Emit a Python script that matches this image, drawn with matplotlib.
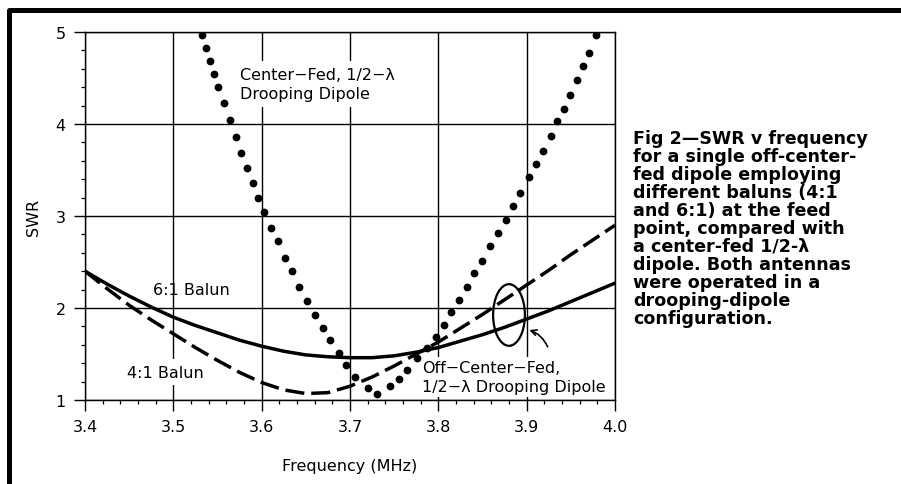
import numpy as np
import matplotlib
matplotlib.use("Agg")
import matplotlib.pyplot as plt
from matplotlib.patches import Ellipse
from matplotlib.ticker import MultipleLocator

# 1. DATA
# Center-fed 1/2-wave drooping dipole (dotted)
cf_freq = [3.532, 3.537, 3.542, 3.546, 3.551, 3.557, 3.564, 3.571, 3.577, 3.583,
           3.590, 3.596, 3.603, 3.611, 3.618, 3.626, 3.634, 3.642, 3.651, 3.660,
           3.669, 3.677, 3.687, 3.695, 3.706, 3.720, 3.730, 3.745, 3.755, 3.764,
           3.776, 3.787, 3.797, 3.806, 3.814, 3.823, 3.832, 3.840, 3.849, 3.858,
           3.868, 3.877, 3.885, 3.893, 3.903, 3.911, 3.919, 3.928, 3.934, 3.942,
           3.949, 3.957, 3.964, 3.971, 3.979]
cf_swr = [4.97, 4.83, 4.69, 4.54, 4.40, 4.23, 4.04, 3.86, 3.69, 3.52,
          3.36, 3.20, 3.04, 2.87, 2.73, 2.54, 2.40, 2.23, 2.08, 1.92,
          1.78, 1.65, 1.51, 1.38, 1.25, 1.13, 1.07, 1.15, 1.23, 1.33,
          1.46, 1.57, 1.69, 1.82, 1.96, 2.09, 2.23, 2.38, 2.51, 2.67,
          2.82, 2.96, 3.11, 3.25, 3.42, 3.57, 3.71, 3.87, 4.03, 4.16,
          4.32, 4.48, 4.63, 4.77, 4.97]

# Off-center-fed with 6:1 balun (solid)
b61_freq = [3.400, 3.425, 3.450, 3.475, 3.500, 3.525, 3.550, 3.575, 3.600, 3.625, 3.650, 3.675, 3.700,
            3.725, 3.750, 3.775, 3.800, 3.825, 3.850, 3.875, 3.900, 3.925, 3.950, 3.975, 4.000]
b61_swr = [2.40, 2.26, 2.13, 2.01, 1.90, 1.81, 1.73, 1.65, 1.585, 1.53, 1.49, 1.47, 1.46,
           1.46, 1.48, 1.52, 1.57, 1.64, 1.71, 1.79, 1.88, 1.97, 2.07, 2.17, 2.27]

# Off-center-fed with 4:1 balun (dashed)
b41_freq = [3.400, 3.425, 3.450, 3.475, 3.500, 3.525, 3.550, 3.575, 3.600, 3.625, 3.650, 3.675, 3.700,
            3.725, 3.750, 3.775, 3.800, 3.825, 3.850, 3.875, 3.900, 3.925, 3.950, 3.975, 4.000]
b41_swr = [2.40, 2.21, 2.03, 1.87, 1.72, 1.57, 1.43, 1.30, 1.19, 1.11, 1.07, 1.08, 1.15,
           1.25, 1.37, 1.50, 1.63, 1.78, 1.93, 2.09, 2.25, 2.41, 2.58, 2.74, 2.90]

x_ticks = [3.4, 3.5, 3.6, 3.7, 3.8, 3.9, 4.0]
x_labels = ["3.4", "3.5", "3.6", "3.7", "3.8", "3.9", "4.0"]
y_ticks = [1, 2, 3, 4, 5]

caption = ["Fig 2\u2014SWR v frequency",
           "for a single off-center-",
           "fed dipole employing",
           "different baluns (4:1",
           "and 6:1) at the feed",
           "point, compared with",
           "a center-fed 1/2-\u03bb",
           "dipole. Both antennas",
           "were operated in a",
           "drooping-dipole",
           "configuration."]

# 2. FIGURE AND AXES
fig = plt.figure(figsize=(9.01, 4.85), dpi=100)
ax = fig.add_axes([85 / 901, 1 - 401 / 485, 530 / 901, 368 / 485])

ax.plot(b61_freq, b61_swr, color="black", lw=2.5, zorder=3)
ax.plot(b41_freq, b41_swr, color="black", lw=2.5, dashes=(5.5, 2.0), zorder=3)
ax.plot(cf_freq, cf_swr, "o", color="black", ms=4.6, zorder=3)

ax.set_xlim(3.4, 4.0)
ax.set_ylim(1, 5)
ax.set_xticks(x_ticks)
ax.set_xticklabels(x_labels)
ax.set_yticks(y_ticks)
ax.xaxis.set_minor_locator(MultipleLocator(0.02))
ax.yaxis.set_minor_locator(MultipleLocator(0.2))
ax.tick_params(which="major", direction="out", length=8, width=1.0, pad=6, labelsize=11.5)
ax.tick_params(which="minor", direction="out", length=3, width=0.9)
ax.set_axisbelow(True)
ax.grid(True, which="major", color="black", lw=1.0)
for s in ax.spines.values():
    s.set_linewidth(1.0)

ax.set_xlabel("Frequency (MHz)", fontsize=11.5, labelpad=17)
ax.set_ylabel("SWR", fontsize=11.5, labelpad=10)

# 3. CURVE LABELS (white boxes break the grid like the original)
box = dict(facecolor="white", edgecolor="none", boxstyle="square,pad=0.35")
ax.text(3.5755, 4.435, "Center\u2212Fed, 1/2\u2212\u03bb\nDrooping Dipole", fontsize=11.5,
        va="center", ha="left", linespacing=1.35, bbox=box, zorder=1)
ax.text(3.477, 2.196, "6:1 Balun", fontsize=11.5, va="center", ha="left", zorder=1)
ax.text(3.4476, 1.304, "4:1 Balun", fontsize=11.5, va="center", ha="left", bbox=box, zorder=1)
ax.text(3.7812, 1.25, "Off\u2212Center\u2212Fed,\n1/2\u2212\u03bb Drooping Dipole", fontsize=11.5,
        va="center", ha="left", linespacing=1.35,
        bbox=dict(facecolor="white", edgecolor="none", boxstyle="square,pad=0.2"), zorder=1)

ax.add_patch(Ellipse((3.880, 1.924), 0.036, 0.67, fill=False, lw=1.6, color="black", zorder=4))
ax.annotate("", xy=(3.900, 1.77), xytext=(3.925, 1.55),
            arrowprops=dict(arrowstyle="->", lw=1.2, color="black",
                            connectionstyle="arc3,rad=0.25"), zorder=4)

# 4. CAPTION AND FRAME
for i, line in enumerate(caption):
    fig.text(633 / 901, 1 - (143.5 + 18.05 * i) / 485, line, fontsize=12.6,
             fontweight="bold", family="DejaVu Sans", va="baseline", ha="left")

fig.add_artist(plt.Line2D([9 / 901, 9 / 901, 1.0], [0.0, 1 - 11 / 485, 1 - 11 / 485],
                          transform=fig.transFigure, color="black", lw=3.6))

fig.savefig("out.png", dpi=100)
